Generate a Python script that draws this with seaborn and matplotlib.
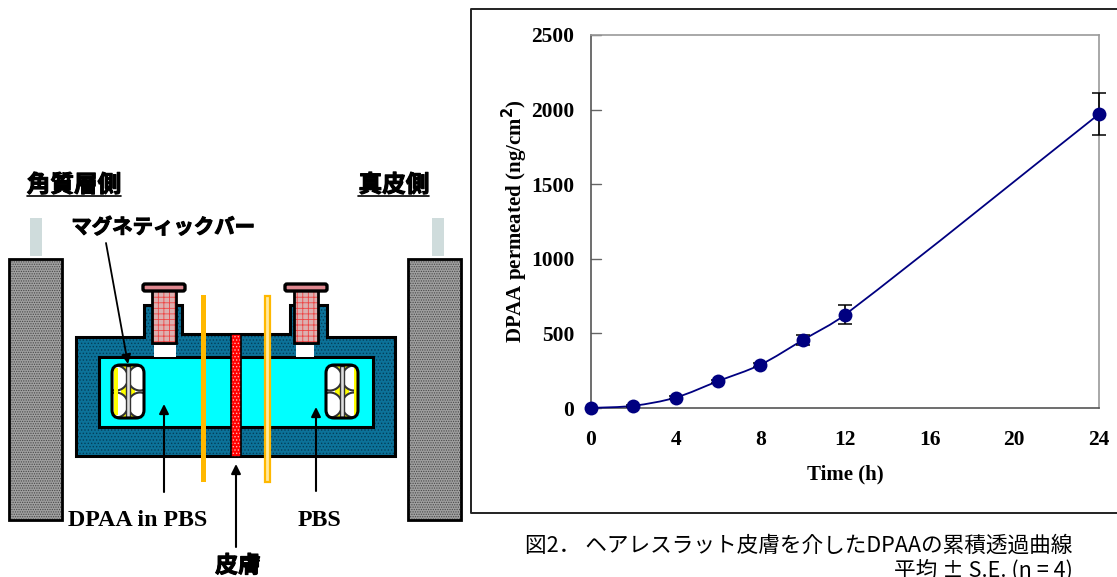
import matplotlib
matplotlib.use('Agg')
import matplotlib.pyplot as plt
import matplotlib.patheffects as pe
from matplotlib.patches import Ellipse, FancyBboxPatch, Polygon, Rectangle, PathPatch
from matplotlib.path import Path
import numpy as np
import pandas as pd
import seaborn as sns

# Data
time_h = [0, 2, 4, 6, 8, 10, 12, 24]
dpaa = [0, 15, 70, 180, 290, 455, 625, 1970]
dpaa_se = [0, 8, 8, 10, 12, 35, 62, 140]
xticks = [0, 4, 8, 12, 16, 20, 24]
yticks = [0, 500, 1000, 1500, 2000, 2500]

NAVY = '#000080'
JP = ['Noto Sans CJK JP', 'DejaVu Sans']
SERIF = 'Liberation Serif'

sns.set_style('white')
plt.rcParams['hatch.linewidth'] = 0.6
plt.rcParams['text.color'] = 'black'
plt.rcParams['axes.labelcolor'] = 'black'
plt.rcParams['xtick.labelcolor'] = 'black'
plt.rcParams['ytick.labelcolor'] = 'black'
fig = plt.figure(figsize=(11.17, 5.77), dpi=100)

# Whole figure axes in pixel units, for the apparatus sketch and the frame
bg = fig.add_axes([0, 0, 1, 1])
bg.set_xlim(0, 1117)
bg.set_ylim(577, 0)
bg.axis('off')

# Frame around the graph
bg.plot([1117, 471, 471, 1117], [9, 9, 513, 513], color='#222222', lw=1.4)


def textured(xy, w, h, fill, dots, pattern, edge='black', lw=2, z=2):
    # fill, then hatch in its own colour, then the outline on top
    bg.add_patch(Rectangle(xy, w, h, fc=fill, ec=dots, lw=0, hatch=pattern, zorder=z))
    bg.add_patch(Rectangle(xy, w, h, fc='none', ec=edge, lw=lw, zorder=z))


# Stirrer blocks and the small bars on top
for x0 in [9, 408]:
    textured((x0, 259), 53, 261, '#a0a0a0', '#484848', '.......')
for x0 in [30, 432]:
    bg.add_patch(Rectangle((x0, 218), 12, 38, fc='#cfdcdc', ec='none'))

# Cell housing
housing = [(76, 337), (144, 337), (144, 305), (182, 305), (182, 334), (290, 334),
           (290, 305), (327, 305), (327, 337), (395, 337), (395, 456), (76, 456)]
bg.add_patch(Polygon(housing, closed=True, fc='#0c7299', ec='#033f5a', lw=0,
                     hatch='.....', zorder=3))
bg.add_patch(Polygon(housing, closed=True, fc='none', ec='black', lw=2.2, zorder=3))
bg.add_patch(Rectangle((99, 357), 274, 70, fc='#00ffff', ec='black', lw=2.2, zorder=4))
for x0, w in [(154, 22), (296, 18)]:
    bg.add_patch(Rectangle((x0, 345), w, 12, fc='white', ec='none', zorder=5))

# Sampling port caps
for xc in [164, 306]:
    textured((xc - 12, 288), 24, 55, '#dcb0b0', '#ee4444', '+++', lw=2, z=6)
    bg.add_patch(FancyBboxPatch((xc - 20, 285), 40, 5, boxstyle='round,pad=1,rounding_size=2',
                                fc='#e08890', ec='black', lw=2.4, zorder=6))

# Membrane holders and skin
bg.add_patch(Rectangle((201, 295), 5, 187, fc='#ffb800', ec='none', zorder=7))
bg.add_patch(Rectangle((265, 296), 4.5, 186, fc='#ffe9a0', ec='#ffb800', lw=1.6, zorder=7))
textured((231, 334), 10, 123, '#ff0000', '#ffb0b0', '.....', lw=1.2, z=8)

# Magnetic stirrer bars, half moons clipped to the rounded body
for x0, strip in [(112, 114), (326, 354)]:
    body = FancyBboxPatch((x0 + 5, 370), 22, 43, boxstyle='round,pad=5,rounding_size=8',
                          fc='white', ec='none', zorder=8)
    bg.add_patch(body)
    bg.add_patch(Rectangle((x0 + 9, 365), 14, 53, fc='#ffff00', ec='none', zorder=9))
    for xc in [x0 + 4, x0 + 28]:
        for yc in [378, 405]:
            moon = Ellipse((xc, yc), 24, 25, fc='white', ec='#333333', lw=1.5, zorder=10)
            bg.add_patch(moon)
            moon.set_clip_path(body)
    bg.add_patch(Rectangle((strip, 368), 4, 47, fc='#ffff00', ec='none', zorder=11))
    bg.add_patch(Rectangle((x0 + 14, 366), 4, 51, fc='#dddddd', ec='#333333', lw=1, zorder=11))
    bg.add_patch(FancyBboxPatch((x0 + 5, 370), 22, 43, boxstyle='round,pad=5,rounding_size=8',
                                fc='none', ec='black', lw=2.2, zorder=11))

# Arrows of the sketch
arrows = [((106, 243), (128, 364), 1.3), ((164, 492), (164, 404), 1.5),
          ((236, 547), (236, 464), 1.5), ((316, 491), (316, 407), 1.5)]
for start, end, lw in arrows:
    bg.annotate('', xy=end, xytext=start, zorder=12,
                arrowprops=dict(arrowstyle='-|>', color='black', lw=lw,
                                shrinkA=0, shrinkB=0, mutation_scale=14))

# Sketch labels
heavy = [pe.withStroke(linewidth=0.8, foreground='black')]
for label, xc, x0, x1 in [('角質層側', 74, 27, 121), ('真皮側', 394, 358, 429)]:
    bg.text(xc, 185, label, family=JP, fontsize=17, fontweight='bold', ha='center',
            va='center', path_effects=heavy)
    bg.plot([x0, x1], [196, 196], color='black', lw=1.2)
bg.text(163, 227, 'マグネティックバー', family=JP, fontsize=14.7, fontweight='bold',
        ha='center', va='center', path_effects=heavy)
bg.text(238, 566, '皮膚', family=JP, fontsize=16.5, fontweight='bold', ha='center',
        va='center', path_effects=heavy)
bg.text(138, 520, 'DPAA in PBS', family=SERIF, fontsize=17.3, fontweight='bold',
        ha='center', va='center')
bg.text(320, 520, 'PBS', family=SERIF, fontsize=17.3, fontweight='bold',
        ha='center', va='center')

# Caption
bg.text(799, 546, '図2． ヘアレスラット皮膚を介したDPAAの累積透過曲線', family=JP,
        fontsize=15.6, ha='center', va='center')
bg.text(1073, 571, '平均 ± S.E. (n = 4)', family=JP, fontsize=15.6, ha='right',
        va='center')

# Permeation graph
ax = fig.add_axes([591 / 1117, 1 - 408 / 577, (1099 - 591) / 1117, (408 - 35) / 577])
ax.patch.set_alpha(0)
df = pd.DataFrame({'time': time_h, 'dpaa': dpaa, 'se': dpaa_se})

ax.set_xlim(0, 24)
ax.set_ylim(0, 2500)

# Smoothed line through the points, tangents worked out in screen proportions
sx, sy = 508 / 24, 373 / 2500
pts = np.column_stack([df['time'] * sx, df['dpaa'] * sy])
verts = [pts[0]]
codes = [Path.MOVETO]
for i in range(len(pts) - 1):
    seg = np.linalg.norm(pts[i + 1] - pts[i])
    t0 = pts[i + 1] - pts[max(i - 1, 0)]
    t1 = pts[min(i + 2, len(pts) - 1)] - pts[i]
    c0 = pts[i] + t0 / np.linalg.norm(t0) * seg / 3
    c1 = pts[i + 1] - t1 / np.linalg.norm(t1) * seg / 3
    verts += [c0, c1, pts[i + 1]]
    codes += [Path.CURVE4] * 3
verts = np.array(verts) / [sx, sy]
ax.add_patch(PathPatch(Path(verts, codes), fc='none', ec=NAVY, lw=1.3, clip_on=False, zorder=3))

err = df[df['se'] > 0]
ax.errorbar(err['time'], err['dpaa'], yerr=err['se'], fmt='none', ecolor='black',
            elinewidth=1.2, capsize=5, capthick=1.1, clip_on=False, zorder=4)
sns.scatterplot(data=df, x='time', y='dpaa', ax=ax, color=NAVY, s=100, edgecolor=NAVY,
                linewidth=0, clip_on=False, zorder=5, legend=False)

ax.set_xticks(xticks)
ax.set_yticks(yticks)
ax.set_xticklabels([str(v) for v in xticks], family=SERIF, fontsize=15.5, fontweight='bold')
ax.set_yticklabels([str(v) for v in yticks], family=SERIF, fontsize=15.5, fontweight='bold')
ax.tick_params(axis='x', direction='inout', length=12, width=1, color='#666666', pad=10)
ax.tick_params(axis='y', direction='out', length=0, pad=12)
for v in yticks:
    ax.plot([0, 0.45], [v, v], color='#666666', lw=1, clip_on=False, zorder=1)
for side in ax.spines:
    ax.spines[side].set_visible(True)
    ax.spines[side].set_color('#9a9a9a')
    ax.spines[side].set_linewidth(1.2)
ax.spines['left'].set_color('#555555')
ax.spines['bottom'].set_color('#555555')

ax.set_xlabel('Time (h)', family=SERIF, fontsize=15, fontweight='bold', labelpad=10)
ax.set_ylabel('DPAA permeated (ng/cm$^{\\mathbf{2}}$)', family=SERIF, fontsize=15,
              fontweight='bold', labelpad=1)

plt.savefig('out.png', dpi=100)
